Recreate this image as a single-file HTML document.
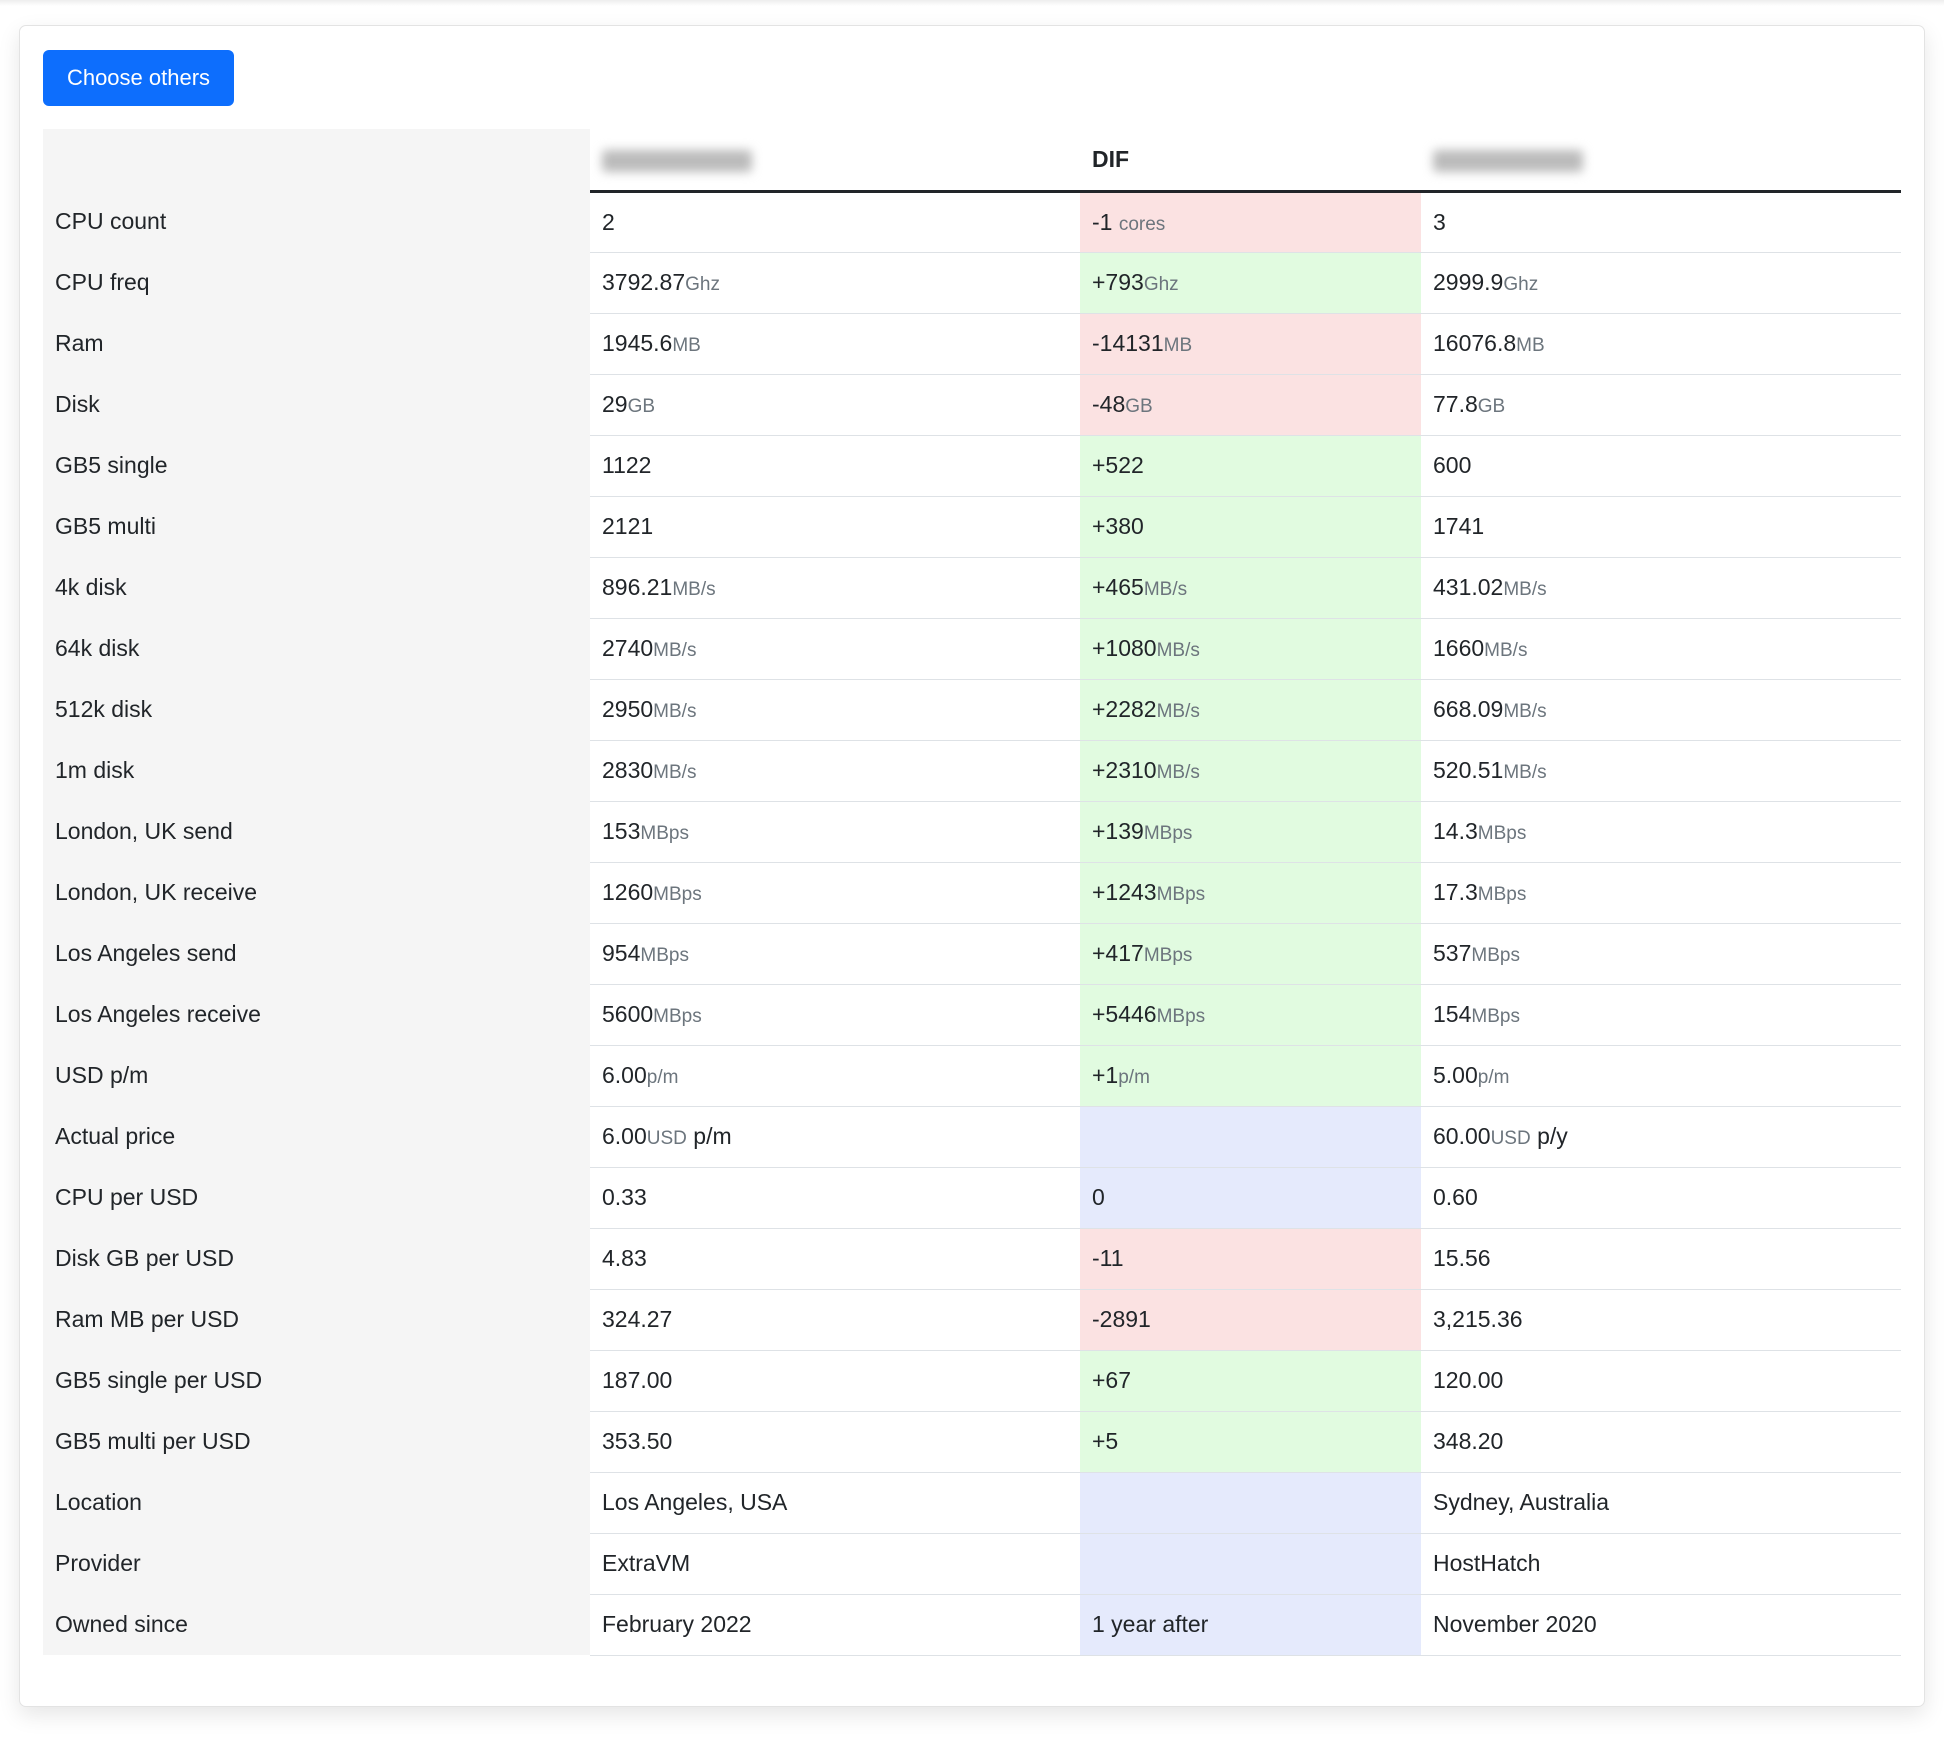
<!DOCTYPE html>
<html><head><meta charset="utf-8">
<style>
html,body{margin:0;padding:0;background:#fff;width:1944px;height:1740px;overflow:hidden;font-family:"Liberation Sans",sans-serif;color:#212529}
.topbar{position:absolute;left:0;top:0;width:1944px;height:6px;background:linear-gradient(#eee,#fff)}
.card{position:absolute;left:19px;top:25px;width:1906px;height:1682px;background:#fff;border:1px solid #e3e3e3;border-radius:7px;box-shadow:0 8px 22px rgba(0,0,0,0.10);box-sizing:border-box}
.btn{position:absolute;left:23px;top:24px;width:191px;height:56px;background:#0d6efd;color:#fff;border:none;border-radius:6px;font-size:22px;font-family:"Liberation Sans",sans-serif;line-height:56px;text-align:center;padding:0}
table{position:absolute;left:23px;top:103px;width:1858px;border-collapse:collapse;table-layout:fixed;font-size:23px}
td,th{padding:0 0 0 12px;height:61px;box-sizing:border-box;text-align:left;white-space:nowrap}
th{height:62px;font-weight:bold;border-bottom:3px solid #212529}
th.lbl{border-bottom:none}
td{border-bottom:1px solid #dee2e6}
td.lbl,th.lbl{background:#f5f5f5;border-bottom:none}
.u{font-size:19px;color:#6c757d}
.r{background:#fbe2e2}.g{background:#e1fbe0}.b{background:#e5eafc}
.blur{display:inline-block;width:150px;height:22px;background:#bbb;filter:blur(5px);border-radius:4px;vertical-align:middle}
</style></head><body>
<div class="topbar"></div>
<div class="card">
<button class="btn">Choose others</button>
<table>
<colgroup><col style="width:547px"><col style="width:490px"><col style="width:341px"><col style="width:480px"></colgroup>
<thead><tr>
<th class="lbl"></th>
<th><span class="blur"></span></th>
<th>DIF</th>
<th><span class="blur"></span></th>
</tr></thead>
<tbody id="tb"></tbody>
</table>
</div>
<script>
const labels=["CPU count","CPU freq","Ram","Disk","GB5 single","GB5 multi","4k disk","64k disk","512k disk","1m disk","London, UK send","London, UK receive","Los Angeles send","Los Angeles receive","USD p/m","Actual price","CPU per USD","Disk GB per USD","Ram MB per USD","GB5 single per USD","GB5 multi per USD","Location","Provider","Owned since"];
const colA=["2","3792.87","1945.6","29","1122","2121","896.21","2740","2950","2830","153","1260","954","5600","6.00","6.00","0.33","4.83","324.27","187.00","353.50","Los Angeles, USA","ExtraVM","February 2022"];
const colB=["3","2999.9","16076.8","77.8","600","1741","431.02","1660","668.09","520.51","14.3","17.3","537","154","5.00","60.00","0.60","15.56","3,215.36","120.00","348.20","Sydney, Australia","HostHatch","November 2020"];
const dif=["-1","+793","-14131","-48","+522","+380","+465","+1080","+2282","+2310","+139","+1243","+417","+5446","+1","","0","-11","-2891","+67","+5","","","1 year after"];
const units=["","Ghz","MB","GB","","","MB/s","MB/s","MB/s","MB/s","MBps","MBps","MBps","MBps","p/m","","","","","","","","",""];
const difCls=["r","g","r","r","g","g","g","g","g","g","g","g","g","g","g","b","b","r","r","g","g","b","b","b"];
const tb=document.getElementById('tb');
function cell(v,u,extra){
  let h=v;
  if(u)h+='<span class="u">'+u+'</span>';
  if(extra)h+=extra;
  return h;
}
for(let i=0;i<labels.length;i++){
  const tr=document.createElement('tr');
  
  
  const l=document.createElement('td');l.className='lbl';l.textContent=labels[i];
  
  
  const a=document.createElement('td');
  
  
  const d=document.createElement('td');d.className=difCls[i];
  
  
  const b=document.createElement('td');
  
  
  if(i===0){a.innerHTML=cell(colA[i]);b.innerHTML=cell(colB[i]);d.innerHTML=dif[i]+' <span class="u">cores</span>';}
  else if(i===15){a.innerHTML=cell(colA[i],'USD',' p/m');b.innerHTML=cell(colB[i],'USD',' p/y');d.innerHTML='';}
  else{a.innerHTML=cell(colA[i],units[i]);b.innerHTML=cell(colB[i],units[i]);d.innerHTML=dif[i]?cell(dif[i],units[i]):'';}
  tr.append(l,a,d,b);tb.appendChild(tr);
}
</script>
</body></html>
